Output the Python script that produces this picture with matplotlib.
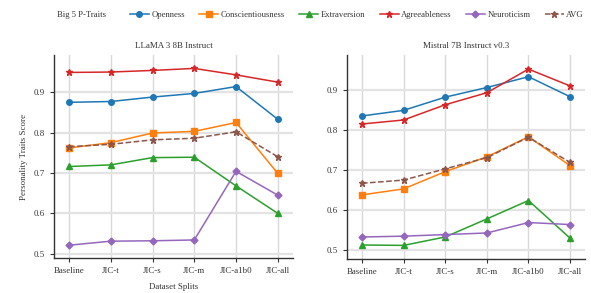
import matplotlib.pyplot as plt

splits = ["Baseline", "JIC-t", "JIC-s", "JIC-m", "JIC-a1b0", "JIC-all"]
traits = ["Openness", "Conscientiousness", "Extraversion", "Agreeableness", "Neuroticism", "AVG"]

# LLaMA 3 8B Instruct
llama_open = [0.875, 0.877, 0.888, 0.897, 0.914, 0.833]
llama_cons = [0.762, 0.775, 0.799, 0.803, 0.825, 0.699]
llama_extr = [0.716, 0.720, 0.738, 0.739, 0.668, 0.600]
llama_agre = [0.949, 0.950, 0.954, 0.959, 0.943, 0.925]
llama_neur = [0.521, 0.531, 0.532, 0.534, 0.704, 0.645]
llama_avg = [0.765, 0.771, 0.782, 0.786, 0.802, 0.740]

# Mistral 7B Instruct v0.3
mistral_open = [0.835, 0.849, 0.882, 0.906, 0.933, 0.883]
mistral_cons = [0.638, 0.653, 0.696, 0.733, 0.783, 0.711]
mistral_extr = [0.513, 0.512, 0.533, 0.578, 0.624, 0.530]
mistral_agre = [0.815, 0.825, 0.863, 0.893, 0.952, 0.910]
mistral_neur = [0.533, 0.535, 0.539, 0.543, 0.569, 0.564]
mistral_avg = [0.667, 0.675, 0.703, 0.731, 0.782, 0.719]

colors = ["#1f77b4", "#ff7f0e", "#2ca02c", "#d62728", "#9467bd", "#8c564b"]
markers = ["o", "s", "^", "*", "D", "*"]
styles = ["-", "-", "-", "-", "-", "--"]
msizes = [4, 4.5, 4, 5, 3.5, 5]

plt.rcParams['font.family'] = ['Liberation Serif', 'DejaVu Serif']
plt.rcParams['font.size'] = 6.4


def draw(ax, series, title, ylim):
    x = list(range(len(splits)))
    for vals, name, c, m, ls, ms in zip(series, traits, colors, markers, styles, msizes):
        ax.plot(x, vals, color=c, marker=m, linestyle=ls, markersize=ms,
                linewidth=1.1, label=name)
    ax.set_xticks(x)
    ax.set_xticklabels(splits)
    ax.set_xlim(-0.36, 5.36)
    ax.set_ylim(*ylim)
    ax.set_yticks([0.5, 0.6, 0.7, 0.8, 0.9])
    ax.set_title(title, fontsize=6.4, color="#333333", pad=5)
    ax.grid(True, color="#d9d9d9", linewidth=1.0)
    ax.grid(True, axis="y", color="#e3e3e3", linewidth=1.6)
    ax.set_axisbelow(True)
    for s in ["top", "right"]:
        ax.spines[s].set_visible(False)
    for s in ["left", "bottom"]:
        ax.spines[s].set_color("#333333")
        ax.spines[s].set_linewidth(1.0)
    ax.tick_params(colors="#333333", length=3, labelsize=6.4)


fig = plt.figure(figsize=(5.91, 2.93), dpi=100)
ax1 = fig.add_axes([0.0914, 0.119, 0.404, 0.693])
ax2 = fig.add_axes([0.587, 0.116, 0.403, 0.696])

draw(ax1, [llama_open, llama_cons, llama_extr, llama_agre, llama_neur, llama_avg],
     "LLaMA 3 8B Instruct", (0.489, 0.992))
draw(ax2, [mistral_open, mistral_cons, mistral_extr, mistral_agre, mistral_neur, mistral_avg],
     "Mistral 7B Instruct v0.3", (0.478, 0.987))

ax1.set_ylabel("Personality Traits Score", color="#333333")
ax1.set_xlabel("Dataset Splits", color="#333333", labelpad=6)

handles, labels = ax1.get_legend_handles_labels()
fig.text(57 / 591, 1 - 15 / 293, "Big 5 P-Traits", fontsize=6.2, color="#333333", va="center")
fig.legend(handles, labels, ncol=6, loc="center left", bbox_to_anchor=(130 / 591, 1 - 15 / 293),
           frameon=False, fontsize=6.2, handlelength=2.2, columnspacing=1.65,
           handletextpad=0.3, borderpad=0, borderaxespad=0, labelcolor="#333333")

fig.savefig("out.png", dpi=100)
